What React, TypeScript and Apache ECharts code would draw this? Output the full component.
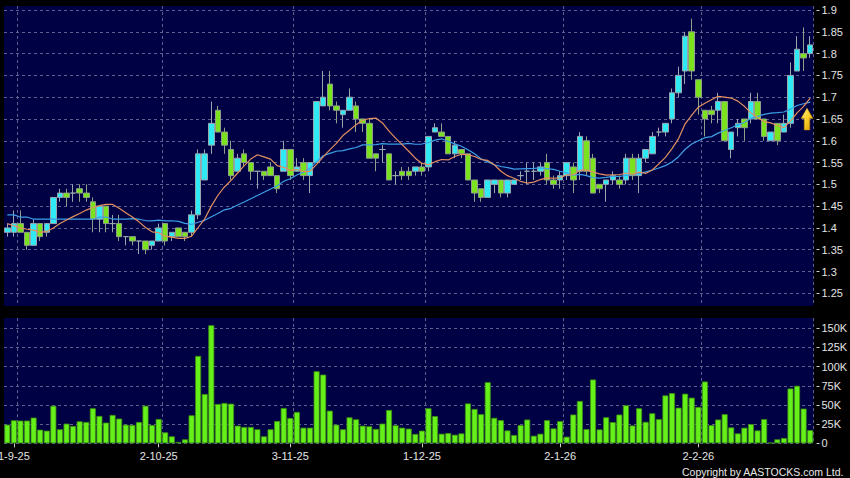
import React, { useEffect, useRef } from "react";
import * as echarts from "echarts";

const FONT = '"Liberation Sans", Arial, "DejaVu Sans", sans-serif';

// Trading calendar (HK): first session and exchange holidays in the window
const firstSession = [2025, 8, 29];
const holidays = [
  "2025-10-01", "2025-10-07", "2025-10-29", "2025-12-25", "2025-12-26",
  "2026-01-01", "2026-02-17", "2026-02-18", "2026-02-19",
];
const sessionCount = 123;
const tickDates = ["1-9-25", "2-10-25", "3-11-25", "1-12-25", "2-1-26", "2-2-26"];

const opens = [
  1.39, 1.39, 1.41, 1.39, 1.36, 1.41, 1.39, 1.41, 1.47, 1.48,
  1.48, 1.49, 1.48, 1.46, 1.42, 1.45, 1.41, 1.41, 1.38, 1.38,
  1.37, 1.37, 1.36, 1.37, 1.41, 1.38, 1.40, 1.39, 1.39, 1.43,
  1.51, 1.59, 1.67, 1.62, 1.58, 1.53, 1.57, 1.55, 1.53, 1.53,
  1.54, 1.52, 1.53, 1.58, 1.53, 1.55, 1.52, 1.55, 1.68, 1.73,
  1.68, 1.66, 1.67, 1.68, 1.65, 1.64, 1.57, 1.58, 1.57, 1.52,
  1.53, 1.53, 1.53, 1.54, 1.54, 1.62, 1.62, 1.61, 1.57, 1.58,
  1.57, 1.51, 1.49, 1.47, 1.50, 1.51, 1.48, 1.50, 1.52, 1.53,
  1.53, 1.53, 1.55, 1.51, 1.51, 1.52, 1.54, 1.53, 1.60, 1.56,
  1.50, 1.50, 1.51, 1.51, 1.51, 1.56, 1.52, 1.56, 1.57, 1.62,
  1.62, 1.65, 1.71, 1.76, 1.85, 1.74, 1.67, 1.67, 1.67, 1.69,
  1.58, 1.63, 1.65, 1.65, 1.69, 1.65, 1.60, 1.64, 1.62, 1.64,
  1.76, 1.80, 1.80,
];
const closes = [
  1.40, 1.41, 1.39, 1.36, 1.41, 1.38, 1.41, 1.47, 1.48, 1.47,
  1.48, 1.48, 1.47, 1.42, 1.45, 1.41, 1.41, 1.38, 1.38, 1.37,
  1.37, 1.35, 1.37, 1.40, 1.37, 1.39, 1.38, 1.38, 1.43, 1.57,
  1.57, 1.64, 1.62, 1.59, 1.52, 1.56, 1.55, 1.53, 1.53, 1.52,
  1.52, 1.49, 1.58, 1.52, 1.54, 1.52, 1.55, 1.69, 1.70, 1.68,
  1.67, 1.67, 1.70, 1.65, 1.64, 1.56, 1.56, 1.58, 1.51, 1.52,
  1.52, 1.52, 1.54, 1.53, 1.61, 1.63, 1.61, 1.57, 1.59, 1.57,
  1.51, 1.48, 1.47, 1.51, 1.51, 1.48, 1.51, 1.51, 1.52, 1.53,
  1.53, 1.54, 1.51, 1.50, 1.52, 1.55, 1.51, 1.61, 1.53, 1.48,
  1.49, 1.51, 1.52, 1.50, 1.56, 1.52, 1.56, 1.58, 1.61, 1.62,
  1.64, 1.71, 1.75, 1.84, 1.76, 1.70, 1.65, 1.66, 1.69, 1.60,
  1.62, 1.64, 1.63, 1.69, 1.65, 1.61, 1.62, 1.60, 1.64, 1.75,
  1.81, 1.79, 1.82,
];
const lows = [
  1.38, 1.38, 1.39, 1.35, 1.36, 1.37, 1.38, 1.41, 1.46, 1.45,
  1.46, 1.46, 1.46, 1.39, 1.39, 1.39, 1.39, 1.37, 1.36, 1.36,
  1.34, 1.34, 1.35, 1.37, 1.36, 1.37, 1.38, 1.37, 1.38, 1.42,
  1.51, 1.57, 1.62, 1.57, 1.51, 1.53, 1.54, 1.51, 1.49, 1.51,
  1.52, 1.48, 1.53, 1.51, 1.53, 1.51, 1.48, 1.55, 1.68, 1.67,
  1.64, 1.63, 1.67, 1.62, 1.62, 1.56, 1.53, 1.55, 1.51, 1.50,
  1.51, 1.51, 1.52, 1.52, 1.53, 1.62, 1.61, 1.57, 1.56, 1.56,
  1.51, 1.46, 1.46, 1.47, 1.48, 1.47, 1.47, 1.50, 1.51, 1.50,
  1.51, 1.52, 1.50, 1.49, 1.49, 1.51, 1.48, 1.51, 1.52, 1.48,
  1.48, 1.46, 1.50, 1.49, 1.50, 1.51, 1.48, 1.55, 1.57, 1.61,
  1.61, 1.64, 1.70, 1.73, 1.74, 1.66, 1.61, 1.64, 1.64, 1.60,
  1.56, 1.61, 1.60, 1.64, 1.65, 1.60, 1.60, 1.59, 1.62, 1.63,
  1.76, 1.76, 1.79,
];
const highs = [
  1.41, 1.44, 1.44, 1.39, 1.42, 1.41, 1.41, 1.47, 1.49, 1.49,
  1.50, 1.50, 1.50, 1.47, 1.45, 1.45, 1.43, 1.43, 1.38, 1.38,
  1.37, 1.37, 1.37, 1.41, 1.41, 1.39, 1.40, 1.39, 1.44, 1.58,
  1.58, 1.69, 1.68, 1.63, 1.60, 1.57, 1.58, 1.55, 1.53, 1.53,
  1.55, 1.52, 1.60, 1.58, 1.56, 1.56, 1.55, 1.69, 1.76, 1.76,
  1.69, 1.67, 1.72, 1.69, 1.65, 1.65, 1.57, 1.59, 1.57, 1.53,
  1.54, 1.54, 1.54, 1.55, 1.61, 1.64, 1.64, 1.61, 1.60, 1.58,
  1.57, 1.51, 1.49, 1.51, 1.51, 1.51, 1.51, 1.51, 1.53, 1.55,
  1.55, 1.55, 1.57, 1.52, 1.53, 1.55, 1.55, 1.62, 1.61, 1.57,
  1.50, 1.51, 1.53, 1.52, 1.57, 1.57, 1.57, 1.58, 1.62, 1.63,
  1.64, 1.72, 1.77, 1.85, 1.88, 1.74, 1.67, 1.68, 1.71, 1.69,
  1.62, 1.65, 1.65, 1.71, 1.71, 1.65, 1.62, 1.64, 1.66, 1.78,
  1.84, 1.86, 1.84,
];
// volume in thousands of shares
const volumesK = [
  24.3, 30, 29.6, 29.6, 33.5, 17.8, 16.5, 49, 18.3, 25.7,
  22.6, 28.7, 27.8, 45.7, 35.7, 27, 37, 32.2, 24.3, 23.9,
  27.8, 49, 23.9, 31.7, 14.3, 9.1, 1.7, 5.2, 36.5, 114,
  64.3, 154, 51.3, 52.6, 51.7, 23, 21.3, 21.3, 18.3, 9.1,
  18.3, 29.1, 46, 33, 40.9, 20.4, 20.4, 94, 89.6, 42.6,
  24.3, 18.3, 33.9, 31.3, 23, 22.2, 18.7, 25.7, 43.5, 23.5,
  20.4, 19.1, 12.2, 16.5, 45.7, 35.5, 12.5, 13.4, 11.2, 12.9,
  52, 44.8, 38, 79.7, 33.2, 30.2, 16.8, 10.8, 23.7, 31,
  9.9, 12.5, 30.2, 19.4, 28.9, 8.6, 37.5, 55.2, 18.5, 83.2,
  18.1, 34, 27.6, 37.5, 49.6, 23.3, 45.7, 28, 39.2, 31.5,
  62.5, 65.5, 46.5, 64.7, 59.5, 47.4, 80.6, 23.7, 31, 38,
  20.7, 12.9, 20.3, 25, 16.8, 31.5, 0.9, 5.2, 6.9, 71.5,
  75, 45.3, 17.2,
];
const ma10Lead = [1.41, 1.405, 1.4, 1.397, 1.395, 1.39, 1.392, 1.4, 1.41];
const ma20Lead = [
  1.43, 1.43, 1.425, 1.425, 1.42, 1.42, 1.42, 1.42, 1.42, 1.42,
  1.42, 1.42, 1.42, 1.42, 1.425, 1.425, 1.42, 1.42, 1.42,
];
const priceTicks = [1.25, 1.3, 1.35, 1.4, 1.45, 1.5, 1.55, 1.6, 1.65, 1.7, 1.75, 1.8, 1.85, 1.9];
const volumeTicks = [0, 25000, 50000, 75000, 100000, 125000, 150000];

function buildSessions(): string[] {
  const out: string[] = [];
  const d = new Date(Date.UTC(firstSession[0], firstSession[1] - 1, firstSession[2]));
  while (out.length < sessionCount) {
    const dow = d.getUTCDay();
    const iso = d.toISOString().slice(0, 10);
    if (dow !== 0 && dow !== 6 && !holidays.includes(iso)) {
      out.push(`${d.getUTCDate()}-${d.getUTCMonth() + 1}-${String(d.getUTCFullYear()).slice(2)}`);
    }
    d.setUTCDate(d.getUTCDate() + 1);
  }
  return out;
}

function movingAverage(period: number, lead: number[]): number[] {
  return closes.map((_, i) => {
    if (i < period - 1) return lead[i];
    let s = 0;
    for (let k = i - period + 1; k <= i; k++) s += closes[k];
    return Math.round((s / period) * 10000) / 10000;
  });
}

export default function App() {
  const ref = useRef<HTMLDivElement>(null);

  useEffect(() => {
    document.body.style.margin = "0";
    document.body.style.background = "#000";
    if (!ref.current) return;
    const chart = echarts.init(ref.current, undefined, { renderer: "svg" });

    const dates = buildSessions();
    const labelled = new Set<number>();
    dates.forEach((d, i) => {
      if (tickDates.includes(d)) labelled.add(i);
    });
    const labelInterval = (i: number) => labelled.has(i);
    const splitInterval = (i: number) => labelled.has(i - 1);

    const candles = opens.map((o, i) => [o, closes[i], lows[i], highs[i]]);
    const volumes = volumesK.map((v) => Math.round(v * 1000));
    const ma10 = movingAverage(10, ma10Lead);
    const ma20 = movingAverage(20, ma20Lead);

    const gridLine = { color: "#60608f", width: 1, type: [3, 3] as any };
    const labelColor = "#e4e4e4";

    const PRICE_MAX = 1.9092;
    const PRICE_MIN = 1.2209;
    const VOL_MAX = 163430;

    const gridBase = {
      left: 4,
      right: 36.5,
      show: true,
      backgroundColor: "#000044",
      borderWidth: 0,
      containLabel: false,
      outerBoundsMode: "none",
    };

    const option: any = {
      animation: false,
      backgroundColor: "#000000",
      textStyle: { fontFamily: FONT },
      grid: [
        { ...gridBase, top: 6, height: 300 },
        { ...gridBase, top: 318, height: 125.3 },
      ],
      xAxis: [
        {
          type: "category",
          gridIndex: 0,
          data: dates,
          boundaryGap: true,
          axisLine: { show: false },
          axisTick: { show: false },
          axisLabel: { show: false },
          splitLine: { show: true, interval: splitInterval, lineStyle: gridLine },
        },
        {
          type: "category",
          gridIndex: 1,
          data: dates,
          boundaryGap: true,
          axisLine: { show: false },
          axisTick: {
            show: true,
            alignWithLabel: true,
            interval: labelInterval,
            length: 4,
            lineStyle: { color: "#cfcfcf" },
          },
          axisLabel: {
            interval: labelInterval,
            color: labelColor,
            fontSize: 11,
            fontFamily: FONT,
            margin: 7,
            alignMinLabel: "center",
            alignMaxLabel: "center",
          },
          splitLine: { show: true, interval: splitInterval, lineStyle: gridLine },
        },
      ],
      yAxis: [
        {
          type: "value",
          gridIndex: 0,
          position: "right",
          min: PRICE_MIN,
          max: PRICE_MAX,
          offset: 3,
          axisLine: { show: false },
          axisTick: { show: true, length: 3, customValues: priceTicks, lineStyle: { color: "#cfcfcf" } },
          axisLabel: {
            customValues: priceTicks,
            color: labelColor,
            fontSize: 11,
            fontFamily: FONT,
            margin: 5,
            formatter: (v: number) => String(Number(v.toFixed(2))),
          },
          splitLine: { show: true, lineStyle: gridLine },
        },
        {
          type: "value",
          gridIndex: 1,
          position: "right",
          min: 0,
          max: VOL_MAX,
          offset: 3,
          axisLine: { show: false },
          axisTick: { show: true, length: 3, customValues: volumeTicks, lineStyle: { color: "#cfcfcf" } },
          axisLabel: {
            customValues: volumeTicks,
            color: labelColor,
            fontSize: 11,
            fontFamily: FONT,
            margin: 5,
            formatter: (v: number) => (v === 0 ? "0" : `${Math.round(v / 1000)}K`),
          },
          splitLine: { show: true, lineStyle: gridLine },
        },
      ],
      series: [
        {
          type: "candlestick",
          xAxisIndex: 0,
          yAxisIndex: 0,
          data: candles,
          barWidth: 6,
          itemStyle: {
            color: "#2fe9f4",
            color0: "#7ae31e",
            borderColor: "#98a6ad",
            borderColor0: "#8f9f8a",
            borderWidth: 1,
          },
        },
        {
          type: "line",
          xAxisIndex: 0,
          yAxisIndex: 0,
          data: ma20,
          showSymbol: false,
          symbol: "none",
          lineStyle: { color: "#3d9fe6", width: 1.2 },
          z: 3,
        },
        {
          type: "line",
          xAxisIndex: 0,
          yAxisIndex: 0,
          data: ma10,
          showSymbol: false,
          symbol: "none",
          lineStyle: { color: "#e2905e", width: 1.2 },
          z: 4,
        },
        {
          type: "bar",
          xAxisIndex: 1,
          yAxisIndex: 1,
          data: volumes,
          barWidth: 6,
          clip: false,
          itemStyle: { color: "#66f01a", borderColor: "#3c8f10", borderWidth: 0.8 },
        },
      ],
      graphic: [
        {
          type: "polygon",
          z: 10,
          shape: {
            points: [
              [807, 108],
              [813, 118.5],
              [809.8, 118.5],
              [809.8, 130],
              [804.2, 130],
              [804.2, 118.5],
              [801, 118.5],
            ],
          },
          style: {
            fill: new echarts.graphic.LinearGradient(0, 0, 1, 1, [
              { offset: 0, color: "#fff48a" },
              { offset: 0.5, color: "#f7cf2a" },
              { offset: 1, color: "#d99400" },
            ]),
            stroke: "#b07a00",
            lineWidth: 0.5,
          },
        },
        {
          type: "text",
          right: 6,
          top: 466,
          z: 10,
          style: {
            text: "Copyright by AASTOCKS.com Ltd.",
            fill: "#e8e8e8",
            font: `10.5px ${FONT}`,
          },
        },
      ],
    };

    chart.setOption(option);
    return () => chart.dispose();
  }, []);

  return <div ref={ref} style={{ width: 850, height: 478 }} />;
}
